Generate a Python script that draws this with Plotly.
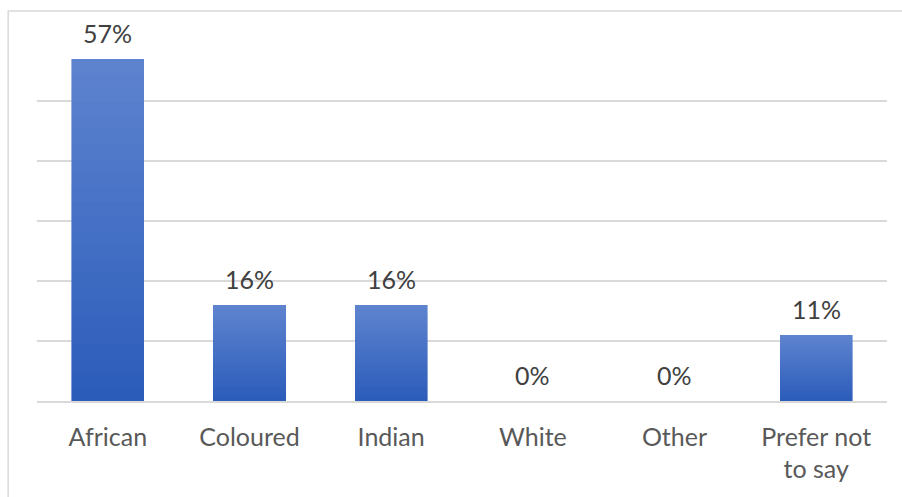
import plotly.graph_objects as go

# Survey responses by population group (share of respondents, %)
categories = ["African", "Coloured", "Indian", "White", "Other", "Prefer not<br>to say"]
shares = [57, 16, 16, 0, 0, 11]
y_ticks = [0, 10, 20, 30, 40, 50, 60]

# Vertical gradient for each bar: light at the top, darker at the base
N_SLICES = 24
top_rgb = (93, 131, 207)
bottom_rgb = (44, 92, 186)

fig = go.Figure()
for i in range(N_SLICES):
    t = i / (N_SLICES - 1)  # 0 at base, 1 at top
    r = round(bottom_rgb[0] + (top_rgb[0] - bottom_rgb[0]) * t)
    g = round(bottom_rgb[1] + (top_rgb[1] - bottom_rgb[1]) * t)
    b = round(bottom_rgb[2] + (top_rgb[2] - bottom_rgb[2]) * t)
    fig.add_trace(go.Bar(
        x=categories,
        y=[v / N_SLICES for v in shares],
        marker=dict(color=f"rgb({r},{g},{b})", line=dict(width=0.6, color=f"rgb({r},{g},{b})")),
        hoverinfo="skip",
        showlegend=False,
    ))

# Value labels above each bar
for c, v in zip(categories, shares):
    fig.add_annotation(
        x=c, y=v, text=f"{v}%", showarrow=False, yshift=26,
        font=dict(family="Lato, Open Sans, sans-serif", size=25, color="#404040"),
    )

# Thin outer frame around the chart area
fig.add_shape(
    type="rect", xref="paper", yref="paper",
    x0=-0.0339, x1=1.05, y0=-0.4, y1=1.0833,
    line=dict(color="#D9D9D9", width=1.5), fillcolor="rgba(0,0,0,0)", layer="below",
)

fig.update_layout(
    width=902, height=497,
    margin=dict(l=37, r=15, t=41, b=96),
    barmode="stack", bargap=0.49,
    plot_bgcolor="white", paper_bgcolor="white",
    font=dict(family="Lato, Open Sans, sans-serif", size=25, color="#595959"),
    xaxis=dict(
        showgrid=False, showline=True, linecolor="#D9D9D9", linewidth=1.5,
        ticks="outside", ticklen=13, tickcolor="rgba(0,0,0,0)",
        tickfont=dict(size=25, color="#595959"), fixedrange=True,
    ),
    yaxis=dict(
        range=[0, 60], tickvals=y_ticks, showticklabels=False,
        showgrid=True, gridcolor="#D9D9D9", gridwidth=1.5,
        zeroline=False, fixedrange=True,
    ),
)

fig.write_html("out.html")
